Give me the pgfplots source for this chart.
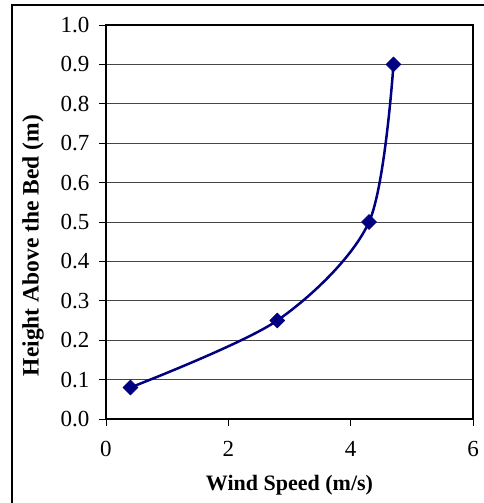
\documentclass[border=0pt]{standalone}
\usepackage{pgfplots}
\pgfplotsset{compat=1.18}
\usepackage{fontspec}
\setmainfont{Liberation Serif}

\definecolor{navyline}{RGB}{0,0,128}
\definecolor{gridgray}{RGB}{70,70,70}

\begin{document}
\begin{tikzpicture}[x=1pt,y=1pt]
\useasboundingbox (0,0) rectangle (484,503);
% chart frame (left and top edges)
\draw[line width=2pt] (11.5,0) -- (11.5,497.5) -- (484,497.5);
\begin{axis}[
  at={(106pt,84pt)}, anchor=south west,
  scale only axis, width=367pt, height=394pt,
  xmin=0, xmax=6, ymin=0, ymax=1,
  xtick={0,2,4,6},
  ytick={0,0.1,0.2,0.3,0.4,0.5,0.6,0.7,0.8,0.9,1.0},
  xtick pos=bottom, ytick pos=left,
  /pgf/number format/assume math mode=true,
  tick align=outside, major tick length=7pt,
  tick style={black, line width=0.8pt},
  ymajorgrids, grid style={gridgray, line width=0.9pt},
  axis line style={black, line width=1.5pt},
  tick label style={font=\fontsize{23}{23}\selectfont},
  xticklabel style={yshift=-12pt},
  yticklabel style={xshift=-6pt, /pgf/number format/.cd, fixed, fixed zerofill, precision=1},
  xlabel={Wind Speed (m/s)},
  ylabel={Height Above the Bed (m)},
  xlabel style={font=\bfseries\fontsize{22}{22}\selectfont,
    at={(axis description cs:0.5,-0.1675)}, anchor=center},
  ylabel style={font=\bfseries\fontsize{23.5}{23.5}\selectfont,
    at={(axis description cs:-0.199,0.44)}, anchor=center},
]
\addplot[navyline, line width=2.5pt, smooth,
  mark=square*, mark size=5.3pt,
  mark options={rotate=45, fill=navyline, draw=navyline, line width=0.5pt}]
  coordinates {(0.4,0.08) (2.8,0.25) (4.3,0.5) (4.7,0.9)};
\end{axis}
\end{tikzpicture}
\end{document}
